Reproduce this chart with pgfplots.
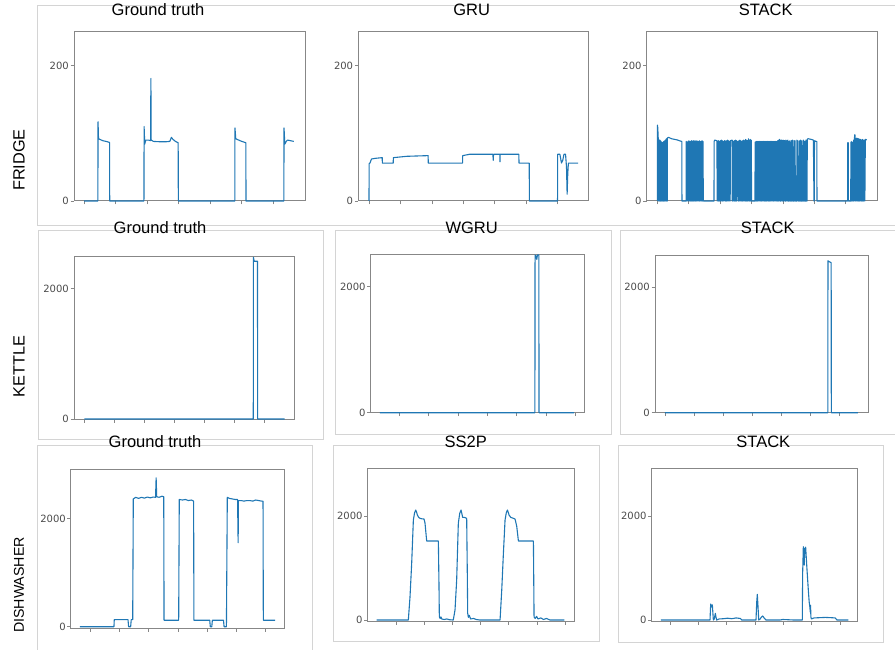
\documentclass[border=0pt]{standalone}
\usepackage{pgfplots}
\pgfplotsset{compat=1.18}
\usepackage{fontspec}
\setmainfont{Liberation Sans}
\newfontfamily\dejavu{DejaVu Sans}
\definecolor{mplblue}{RGB}{31,119,180}
\definecolor{axgray}{RGB}{135,135,135}
\definecolor{tickgray}{RGB}{75,75,75}
\definecolor{framegray}{RGB}{212,212,212}
\pgfplotsset{
  panel/.style={
    scale only axis, anchor=south west, clip=false,
    axis line style={draw=axgray, line width=1pt},
    tick style={draw=axgray, line width=0.7pt},
    tick align=outside, major tick length=3.5pt,
    xtick pos=bottom, ytick pos=left,
    xticklabels={},
    yticklabel style={font=\dejavu\fontsize{10}{11}\selectfont, text=tickgray, inner sep=1.5pt},
    /pgf/number format/assume math mode=true,
  },
}
\tikzset{ttl/.style={font=\fontsize{16.5}{18}\selectfont},
  mpl/.style={draw=mplblue, line width=1.1pt, mark=none, line join=round}}
\begin{document}
\begin{tikzpicture}
\useasboundingbox (0pt,0pt) rectangle (895pt,649pt);
% panel frames
\draw[framegray, line width=0.8pt] (900pt,644pt) -- (37pt,644pt) -- (37pt,424pt) -- (900pt,424pt);
\draw[framegray, line width=0.8pt] (38pt,418.3pt) rectangle (323pt,210pt);
\draw[framegray, line width=0.8pt] (335.7pt,418.3pt) rectangle (611pt,215pt);
\draw[framegray, line width=0.8pt] (900pt,418.3pt) -- (620.7pt,418.3pt) -- (620.7pt,215pt) -- (900pt,215pt);
\draw[framegray, line width=0.8pt] (37pt,-5pt) -- (37pt,204pt) -- (312pt,204pt) -- (312pt,-5pt);
\draw[framegray, line width=0.8pt] (333pt,204pt) rectangle (599pt,7.3pt);
\draw[framegray, line width=0.8pt] (618pt,204pt) rectangle (883pt,7pt);

% ===== Row 1: FRIDGE =====
\begin{axis}[panel, at={(74pt,448pt)}, width=231pt, height=169.3pt,
  xmin=-31.7, xmax=700.5, ymin=0, ymax=250,
  xtick={0,100,200,300,400,500,600}, ytick={0,200}, yticklabels={0,200}]
\addplot[mpl] coordinates {(0,0)(44,0)(44.5,117)(46,92)(50,91)(60,89)(70,88)(81,86.5)(81.5,0)(190,0)(190.5,110)(192.5,84)(196,90)(205,90)(211,89)(212,181)(213,90)(220,88)(240,87.5)(260,87.5)(272,88)(277,94)(282,91)(290,88)(298.5,86)(299,0)(478,0)(478.5,108)(481,92)(490,90)(500,88)(513,86)(513.5,0)(633.5,0)(634,108)(636.5,84)(641,88)(645,90)(655,89)(665,88)};
\end{axis}

\begin{axis}[panel, at={(358.3pt,448pt)}, width=230.4pt, height=169.3pt,
  xmin=-34, xmax=698.6, ymin=0, ymax=250,
  xtick={0,100,200,300,400,500,600}, ytick={0,200}, yticklabels={0,200}]
\addplot[mpl] coordinates {(0,0)(0.5,55)(3,56)(8,62)(20,63)(42,64)(42.5,56)(77,56)(77.5,64)(120,66)(188,67)(188.5,56)(297.5,56)(298,67)(320,69)(394,69)(395,60)(396,69)(416,69)(416.5,58)(417,69)(476.5,69)(477,56)(509.5,56)(510,0)(599.5,0)(600,69)(607,69)(612,56)(616,60)(620,69)(625,69)(628,50)(630,10)(632,40)(634,56)(665,56)};
\end{axis}

\begin{axis}[panel, at={(646.7pt,448pt)}, width=230.6pt, height=169.3pt,
  xmin=-33.8, xmax=700.6, ymin=0, ymax=250,
  xtick={0,100,200,300,400,500,600}, ytick={0,200}, yticklabels={0,200}]
\addplot[mpl] coordinates {(0,0)(0.3,112)(1.5,108)(3,92)(4,90)(4.5,0)(5.5,0)(6,89)(8,90)(8.5,0)(9.5,0)(10,89)(11,88)(11.5,0)(13,0)(13.5,87)(15,87)(15.5,0)(16,0)(16.5,86)(18,86)(18.5,0)(20,0)(20.5,88)(22,88)(22.5,0)(23.5,0)(24,89)(26,90)(26.5,0)(27.5,0)(28,91)(30,92)(30.5,0)(31.5,0)(32,93)(36,94)(45,92)(55,91)(65,90)(70,89)(78,88)(78.5,0)(91,0)
(91.5,0)(92,88)(93.5,0)(95,87)(96.5,0)(98,88)(99,0)(100.5,89)(102,0)(103.5,88)(105,0)(106,88)(107.5,0)(109,89)(110.5,0)(112,88)(113,0)(114.5,89)(116,0)(117.5,88)(119,0)(120,89)(121.5,0)(123,88)(124.5,0)(126,89)(127,0)(128.5,88)(130,0)(131.5,88)(133,0)(134,89)(135.5,0)(137,88)(138.5,0)(140,88)(141,0)(142.5,89)(144,0)(145.5,88)(146.5,0)
(180.5,0)(181,88)(183,90)(190,89)(190.5,0)(192,88)(193.5,0)(195,89)(196.5,0)(198,88)(199.5,0)(201,89)(202.5,0)(204,90)(205.5,0)(207,89)(208.5,0)(210,88)(212,0)(214,89)(216,89)(216.5,0)(218,88)(219.5,0)(221,89)(222.5,0)(224,90)(225.5,0)(227,89)(228.5,0)(230,88)(232,0)(233,89)(238,90)(238.5,0)(240,89)(241.5,0)(243,88)(244.5,0)(246,89)(247.5,0)(249,90)(250.5,0)(252,89)(253.5,0)(255,88)(258,88)(258.5,0)(260,89)(261.5,0)(263,90)(264.5,0)(266,89)(267.5,0)(269,88)(270.5,0)(272,89)(273.5,0)(275,90)(276.5,0)(278,89)(279.5,0)(281,91)(282.5,0)(284,90)(285.5,0)(287,89)(288.5,0)(290,92)(291.5,0)(293,90)(294.5,0)(296,91)(297.5,0)(299,90)(300.5,0)
(311,0)(311.5,87)(313,0)(314.5,88)(316,0)(317.5,88)(319,0)(320.5,88)(322,0)(323.5,88)(325,0)(326.5,88)(328,0)(329.5,88)(331,0)(332.5,88)(334,0)(335.5,88)(337,0)(338.5,88)(340,0)(341.5,88)(343,0)(344.5,88)(346,0)(347.5,88)(349,0)(350.5,88)(352,0)(353.5,88)(355,0)(356.5,88)(358,0)(359.5,88)(361,0)(362.5,88)(364,0)(365.5,88)(367,0)(368.5,88)(370,0)(371.5,88)(373,0)(374.5,88)(376,0)(377.5,88)(379,0)(380.5,88)(382,0)(383.5,89)(385,0)(386.5,90)(388,0)(389.5,91)(391,0)
(393.5,0)(394,90)(396,90)(396.5,0)(398,89)(399.5,0)(401,90)(402.5,0)(404,89)(406,89)(406.5,0)(409,0)(409.5,90)(411,0)(412.5,89)(414,0)(415.5,90)(417,0)(419,0)(419.5,88)(421,0)(422.5,89)(424,0)(427,0)(427.5,89)(429,0)(430.5,90)(432,0)(435,0)(435.5,89)(437,0)(438.5,89)(440,0)(444,0)(444.5,90)(446,0)(447.5,89)(449,0)(452,0)(452.5,89)(454,0)(456,0)(456.5,90)(458,0)(460,0)(460.5,89)(462,0)(465,0)(465.5,90)(467,0)(469,0)(469.5,88)(471,0)(473,0)(473.5,90)(475,0)(477,0)(477.5,91)(480,92)(490,91)(497,90)(499,0)(500,0)(500.5,89)(505,88)(508,88)(508.5,0)
(606,0)(606.5,86)(608,86)(608.5,0)(616,0)(616.5,87)(618,0)(619,0)(619.5,88)(621,0)(622.5,86)(624,0)(625.5,90)(627,0)(628,94)(629,98)(630,96)(631,0)(632.5,92)(634,0)(635.5,93)(637,0)(638.5,92)(640,0)(641.5,92)(643,0)(644.5,91)(646,0)(647.5,91)(649,0)(650.5,90)(652,0)(653.5,91)(655,0)(656.5,90)(658,0)(659.5,90)(661,0)(662.5,91)(664,91)(666.9,90)};
\end{axis}

% ===== Row 2: KETTLE =====
\begin{axis}[panel, at={(74pt,230pt)}, width=220.7pt, height=163pt,
  xmin=-34.3, xmax=701, ymin=0, ymax=2500,
  xtick={0,100,200,300,400,500,600}, ytick={0,2000}, yticklabels={0,2000}]
\addplot[mpl] coordinates {(0,0)(563,0)(563.5,2480)(566,2420)(577,2420)(577.5,0)(667,0)};
\end{axis}

\begin{axis}[panel, at={(370.7pt,236.3pt)}, width=213.3pt, height=157.7pt,
  xmin=-31.7, xmax=696, ymin=0, ymax=2500,
  xtick={66,166,266,366,466,566,666}, ytick={0,2000}, yticklabels={0,2000}]
\addplot[mpl] coordinates {(0,0)(528.5,0)(529,2500)(532,2480)(535,2430)(537,2500)(542,2500)(542.5,0)(662,0)};
\end{axis}

\begin{axis}[panel, at={(655pt,236.3pt)}, width=213.3pt, height=157pt,
  xmin=-34.4, xmax=699.8, ymin=0, ymax=2500,
  xtick={0,100,200,300,400,500,600}, ytick={0,2000}, yticklabels={0,2000}]
\addplot[mpl] coordinates {(0,0)(560.5,0)(561,2420)(563,2410)(572,2390)(572.5,0)(664,0)};
\end{axis}

% ===== Row 3: DISHWASHER =====
\begin{axis}[panel, at={(71pt,21pt)}, width=214pt, height=159pt,
  xmin=-30.7, xmax=700, ymin=-24, ymax=2913,
  xtick={34,134,235,337,436,535,634}, ytick={0,2000}, yticklabels={0,2000}]
\addplot[mpl] coordinates {(0,0)(116,0)(117,130)(164,130)(166,0)(173,0)(175,130)(180,130)(182,2360)(190,2390)(200,2370)(210,2390)(220,2375)(230,2395)(240,2380)(250,2395)(258,2390)(260,2750)(262,2400)(270,2390)(280,2410)(286,2400)(287,120)(337,120)(339,2350)(350,2340)(360,2350)(370,2330)(380,2340)(388,2320)(389,120)(443,120)(445,0)(450,0)(452,120)(490,120)(492,0)(500,0)(503,2390)(510,2370)(520,2360)(530,2350)(538,2350)(540,1550)(541,2330)(550,2330)(560,2320)(570,2330)(580,2330)(590,2320)(600,2340)(610,2330)(620,2320)(625,2320)(626,120)(666,120)};
\end{axis}

\begin{axis}[panel, at={(367.7pt,28pt)}, width=206.3pt, height=152pt,
  xmin=-32.1, xmax=703.4, ymin=-19, ymax=2904,
  xtick={71,171,271,371,471,571,671}, ytick={0,2000}, yticklabels={0,2000}]
\addplot[mpl] coordinates {(0,0)(112.8,0)(118.8,449)(124.7,1090)(130.7,1923)(135,2060)(139,2115)(142,2080)(144.9,2019)(149.7,1974)(154.4,1955)(162,1945)(168.7,1942)(172.2,1865)(178.2,1519)(219.8,1519)(222,700)(223.3,64)(226,30)(229,60)(232,20)(240,10)(250,20)(260,5)(273,0)(279.2,192)(285.1,769)(291,1860)(296,2050)(300.6,2115)(303,2060)(306.5,1974)(312.5,1974)(320.8,1955)(323,900)(324.4,128)(327,50)(330,90)(335,20)(345,30)(355,10)(368,0)(439.8,0)(445.8,577)(451.7,1282)(457.6,1923)(462,2060)(466,2115)(469,2070)(471.9,2019)(477.9,1974)(485,1960)(493.3,1942)(499.3,1800)(505.2,1519)(558.7,1519)(560,700)(561,60)(565,30)(570,70)(575,20)(585,40)(595,10)(605,30)(618,0)(669,0)};
\end{axis}

\begin{axis}[panel, at={(651.7pt,28pt)}, width=206pt, height=152pt,
  xmin=-32.8, xmax=694.3, ymin=-19, ymax=2904,
  xtick={32,132,232,332,432,532,632}, ytick={0,2000}, yticklabels={0,2000}]
\addplot[mpl] coordinates {(0,0)(173,0)(175.4,308)(177,250)(178.9,282)(181.3,290)(184.8,0)(188,20)(191.9,128)(194,60)(196.6,0)(205,20)(220,25)(235,35)(250,25)(265,40)(280,30)(285,0)(335.3,0)(338,350)(340,494)(342,300)(345,0)(350,20)(355,60)(359,77)(364,40)(370.5,0)(420,0)(430,10)(450,5)(470,0)(498.8,0)(500,900)(502.4,1410)(504,1300)(505.5,1058)(507,1300)(508.2,1378)(510.6,1400)(515,1000)(520,577)(523,350)(525,269)(527,150)(528,282)(529,60)(531,20)(540,40)(560,45)(580,50)(600,45)(615,40)(621,0)(661,0)};
\end{axis}

% titles
\node[ttl] at (158pt,639pt) {Ground truth};
\node[ttl] at (471.7pt,639pt) {GRU};
\node[ttl] at (765.7pt,639pt) {STACK};
\node[ttl] at (160pt,421pt) {Ground truth};
\node[ttl] at (471.7pt,421pt) {WGRU};
\node[ttl] at (767.7pt,421pt) {STACK};
\node[ttl] at (155pt,207pt) {Ground truth};
\node[ttl] at (465.7pt,207pt) {SS2P};
\node[ttl] at (763.3pt,207pt) {STACK};
% row labels
\node[rotate=90, font=\fontsize{16.3}{18}\selectfont] at (19pt,489pt) {FRIDGE};
\node[rotate=90, font=\fontsize{16.3}{18}\selectfont] at (19pt,282.3pt) {KETTLE};
\node[rotate=90, font=\fontsize{14.2}{16}\selectfont] at (19pt,64pt) {DISHWASHER};
\end{tikzpicture}
\end{document}
